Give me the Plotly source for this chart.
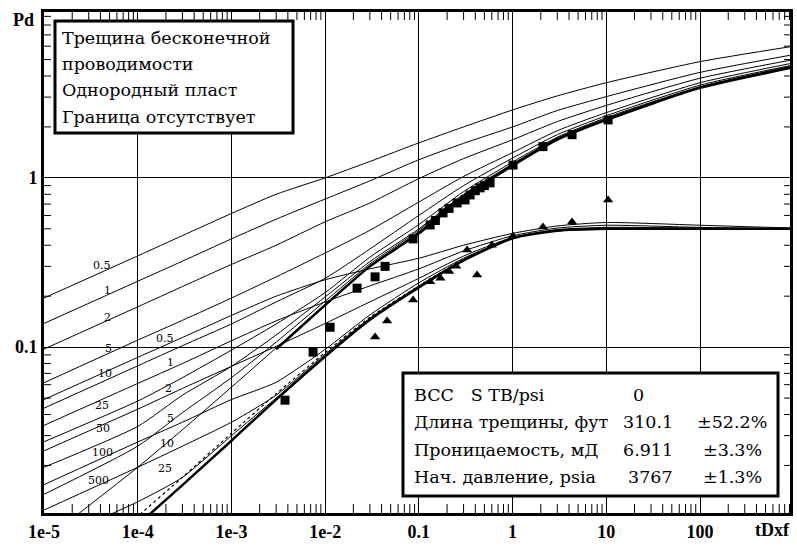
import math
import plotly.graph_objects as go

# ---------------- data ----------------
t_grid = [1e-5, 1e-4, 3e-4, 1e-3, 3e-3, 1e-2, 3e-2, 0.1, 0.3, 1, 3, 10, 100, 1000]

fcd_labels = ["0.5", "1", "2", "5", "10", "25", "50", "100", "500"]

pd_05 = [0.195, 0.346, 0.456, 0.616, 0.80, 1.0, 1.25, 1.61, 2.0, 2.52, 3.05, 3.65, 4.86, 6.0]
pd_1 = [0.138, 0.245, 0.322, 0.436, 0.57, 0.75, 0.96, 1.28, 1.6, 2.0, 2.5, 3.02, 4.2, 5.35]
pd_2 = [0.0974, 0.173, 0.228, 0.308, 0.40, 0.55, 0.71, 0.99, 1.3, 1.68, 2.15, 2.68, 3.88, 5.0]
pd_5 = [0.0616, 0.11, 0.144, 0.195, 0.26, 0.36, 0.49, 0.72, 1.02, 1.41, 1.9, 2.43, 3.65, 4.78]
pd_10 = [0.0436, 0.0775, 0.102, 0.137, 0.185, 0.255, 0.38, 0.60, 0.9, 1.31, 1.8, 2.33, 3.53, 4.65]
pd_25 = [0.0276, 0.048, 0.066, 0.096, 0.137, 0.21, 0.34, 0.53, 0.83, 1.24, 1.74, 2.27, 3.46, 4.6]
pd_50 = [0.0195, 0.034, 0.052, 0.077, 0.118, 0.198, 0.32, 0.50, 0.80, 1.21, 1.72, 2.24, 3.43, 4.56]
pd_100 = [0.0135, 0.026, 0.041, 0.066, 0.107, 0.187, 0.31, 0.49, 0.79, 1.2, 1.71, 2.22, 3.41, 4.53]
pd_500 = [0.0072, 0.0195, 0.0325, 0.058, 0.099, 0.179, 0.302, 0.48, 0.78, 1.19, 1.70, 2.21, 3.40, 4.51]

# infinite-conductivity Pd curve (drawn thick)
t_inf = [3e-3, 1e-2, 3e-2, 0.1, 0.3, 1, 3, 10, 100, 1000]
pd_inf = [0.097, 0.177, 0.30, 0.47, 0.77, 1.18, 1.68, 2.20, 3.40, 4.50]

dv_05 = [0.049, 0.087, 0.114, 0.154, 0.20, 0.25, 0.29, 0.335, 0.40, 0.47, 0.52, 0.545, 0.525, 0.505]
dv_1 = [0.0345, 0.061, 0.080, 0.109, 0.143, 0.185, 0.23, 0.29, 0.37, 0.455, 0.505, 0.525, 0.51, 0.50]
dv_2 = [0.0244, 0.043, 0.057, 0.077, 0.101, 0.138, 0.185, 0.255, 0.345, 0.445, 0.495, 0.51, 0.505, 0.50]
dv_5 = [0.0154, 0.0275, 0.036, 0.049, 0.062, 0.097, 0.155, 0.24, 0.335, 0.44, 0.49, 0.50, 0.50, 0.50]
dv_10 = [0.0109, 0.0195, 0.026, 0.036, 0.052, 0.091, 0.148, 0.23, 0.33, 0.44, 0.488, 0.50, 0.50, 0.50]
dv_25 = [0.0069, 0.0122, 0.017, 0.030, 0.050, 0.089, 0.146, 0.227, 0.327, 0.44, 0.487, 0.50, 0.50, 0.50]
dv_hatch = [0.0030, 0.0100, 0.0170, 0.031, 0.053, 0.093, 0.15, 0.23, 0.33, 0.44, 0.487, 0.50, 0.50, 0.50]
dv_inf = [0.0028, 0.0089, 0.0153, 0.028, 0.049, 0.088, 0.145, 0.225, 0.325, 0.44, 0.487, 0.50, 0.50, 0.50]

pd_data_t = [0.00373, 0.00743, 0.0113, 0.0219, 0.0341, 0.0436, 0.0867, 0.132, 0.15, 0.181,
             0.21, 0.256, 0.311, 0.352, 0.40, 0.45, 0.5, 0.575, 1.01, 2.11, 4.31, 10.45]
pd_data_v = [0.0486, 0.0934, 0.131, 0.223, 0.26, 0.30, 0.436, 0.527, 0.56, 0.621,
             0.66, 0.711, 0.741, 0.793, 0.84, 0.873, 0.90, 0.934, 1.19, 1.53, 1.80, 2.2]

dv_data_t = [0.0341, 0.0458, 0.0867, 0.132, 0.17, 0.21, 0.25, 0.327, 0.418, 0.6, 1.01, 2.11, 4.31, 10.45]
dv_data_v = [0.1146, 0.1425, 0.19, 0.243, 0.255, 0.28, 0.30, 0.375, 0.267, 0.40, 0.454, 0.513, 0.549, 0.741]

x_tickvals = [1e-5, 1e-4, 1e-3, 1e-2, 0.1, 1, 10, 100]
x_ticktext = ["1e-5", "1e-4", "1e-3", "1e-2", "0.1", "1", "10", "100"]
y_tickvals = [0.1, 1]
y_ticktext = ["0.1", "1"]

info_title = ["Трещина бесконечной", "проводимости", "Однородный пласт", "Граница отсутствует"]
res_names = ["BCC   S TB/psi", "Длина трещины, фут", "Проницаемость, мД", "Нач. давление, psia"]
res_values = ["0", "310.1", "6.911", "3767"]
res_errors = ["", "±52.2%", "±3.3%", "±1.3%"]

# ---------------- figure ----------------
W, H = 797, 546
L, R, T, B = 44, 7, 12, 33
PW, PH = W - L - R, H - T - B
SERIF = "DejaVu Serif, Liberation Serif, serif"
X_RANGE = [-5, 2.96]
Y_RANGE = [-1.98, 0.98]

x_minor = [m * 10.0 ** e for e in range(-5, 3) for m in range(2, 10)]
y_minor = [m * 10.0 ** e for e in range(-2, 1) for m in range(2, 10)]


def px(x):
    return (x - L) / PW


def py(y):
    return (H - B - y) / PH


def xpaper(v):
    return (math.log10(v) - X_RANGE[0]) / (X_RANGE[1] - X_RANGE[0])


def ypaper(v):
    return (math.log10(v) - Y_RANGE[0]) / (Y_RANGE[1] - Y_RANGE[0])


def note(fig, text, x, y, font, xanchor="center"):
    fig.add_annotation(x=px(x), y=py(y), xref="paper", yref="paper", text=text,
                       showarrow=False, xanchor=xanchor, yanchor="middle", font=font,
                       borderpad=0)


fig = go.Figure()

pd_curves = [pd_05, pd_1, pd_2, pd_5, pd_10, pd_25, pd_50, pd_100, pd_500]
dv_curves = [dv_05, dv_1, dv_2, dv_5, dv_10, dv_25]

for c in pd_curves + dv_curves:
    fig.add_trace(go.Scatter(x=t_grid, y=c, mode="lines",
                             line=dict(color="black", width=1, shape="spline", smoothing=0.6),
                             hoverinfo="skip", showlegend=False))
fig.add_trace(go.Scatter(x=t_grid, y=dv_hatch, mode="lines",
                         line=dict(color="black", width=1.2, dash="dot", shape="spline", smoothing=0.6),
                         hoverinfo="skip", showlegend=False))
fig.add_trace(go.Scatter(x=t_inf, y=pd_inf, mode="lines",
                         line=dict(color="black", width=2.5, shape="spline", smoothing=0.6),
                         hoverinfo="skip", showlegend=False))
fig.add_trace(go.Scatter(x=t_grid, y=dv_inf, mode="lines",
                         line=dict(color="black", width=2.5, shape="spline", smoothing=0.6),
                         hoverinfo="skip", showlegend=False))

fig.add_trace(go.Scatter(x=pd_data_t, y=pd_data_v, mode="markers",
                         marker=dict(symbol="square", size=9, color="black"), showlegend=False))
fig.add_trace(go.Scatter(x=dv_data_t, y=dv_data_v, mode="markers",
                         marker=dict(symbol="triangle-up", size=9, color="black"), showlegend=False))

label_font = dict(family=SERIF, size=11, color="black")
pd_label_pos = [(102, 265), (107, 290), (107, 317), (108, 348), (105, 373),
                (102, 405), (103, 428), (102, 452), (98, 480)]
dv_label_pos = [(165, 338), (170, 362), (168, 388), (170, 418), (167, 443), (165, 468)]
for txt, (x, y) in zip(fcd_labels, pd_label_pos):
    note(fig, txt, x, y, label_font)
for txt, (x, y) in zip(fcd_labels, dv_label_pos):
    note(fig, txt, x, y, label_font)

# minor ticks on all four sides (inside the frame)
tick_line = dict(color="black", width=1)
for v in x_minor:
    xp = xpaper(v)
    fig.add_shape(type="line", xref="paper", yref="paper", x0=xp, x1=xp, y0=0, y1=9 / PH,
                  line=tick_line, layer="above")
    fig.add_shape(type="line", xref="paper", yref="paper", x0=xp, x1=xp, y0=1, y1=1 - 8 / PH,
                  line=tick_line, layer="above")
for v in y_minor:
    yp = ypaper(v)
    fig.add_shape(type="line", xref="paper", yref="paper", x0=0, x1=7 / PW, y0=yp, y1=yp,
                  line=tick_line, layer="above")
    fig.add_shape(type="line", xref="paper", yref="paper", x0=1, x1=1 - 6 / PW, y0=yp, y1=yp,
                  line=tick_line, layer="above")

# boxes
fig.add_shape(type="rect", xref="paper", yref="paper", x0=px(55), x1=px(293), y0=py(133), y1=py(21),
              line=dict(color="black", width=3), fillcolor="white", layer="above")
fig.add_shape(type="rect", xref="paper", yref="paper", x0=px(403), x1=px(778), y0=py(496), y1=py(373),
              line=dict(color="black", width=3), fillcolor="white", layer="above")

box_font = dict(family=SERIF, size=17.5, color="black")
for txt, y in zip(info_title, [38, 64, 90, 117]):
    note(fig, txt, 61, y, box_font, xanchor="left")
rows_y = [395, 422, 450, 477]
for name, val, err, y in zip(res_names, res_values, res_errors, rows_y):
    note(fig, name, 413, y, box_font, xanchor="left")
    if val == "0":
        note(fig, val, 632, y, box_font, xanchor="left")
    else:
        note(fig, val, 674, y, box_font, xanchor="right")
    if err:
        note(fig, err, 732, y, box_font)

axis_font = dict(family="Liberation Serif", size=18, color="black", weight="bold")
note(fig, "Pd", 23, 20, axis_font)
note(fig, "tDxf", 772, 530, axis_font)

common = dict(type="log", showgrid=True, gridcolor="black", gridwidth=1.3, zeroline=False,
              showline=True, linecolor="black", linewidth=3, mirror=True, ticks="",
              automargin=False,
              tickfont=dict(family="Liberation Serif", size=18, color="black", weight="bold"))

fig.update_xaxes(range=X_RANGE, tickmode="array", tickvals=x_tickvals, ticktext=x_ticktext, **common)
fig.update_yaxes(range=Y_RANGE, tickmode="array", tickvals=y_tickvals, ticktext=y_ticktext, **common)

fig.update_layout(width=W, height=H, margin=dict(l=L, r=R, t=T, b=B, autoexpand=False),
                  paper_bgcolor="white", plot_bgcolor="white", showlegend=False)

fig.write_html("out.html", config={"displayModeBar": False},
               post_script="document.body.style.margin='0';document.body.style.padding='0';")
